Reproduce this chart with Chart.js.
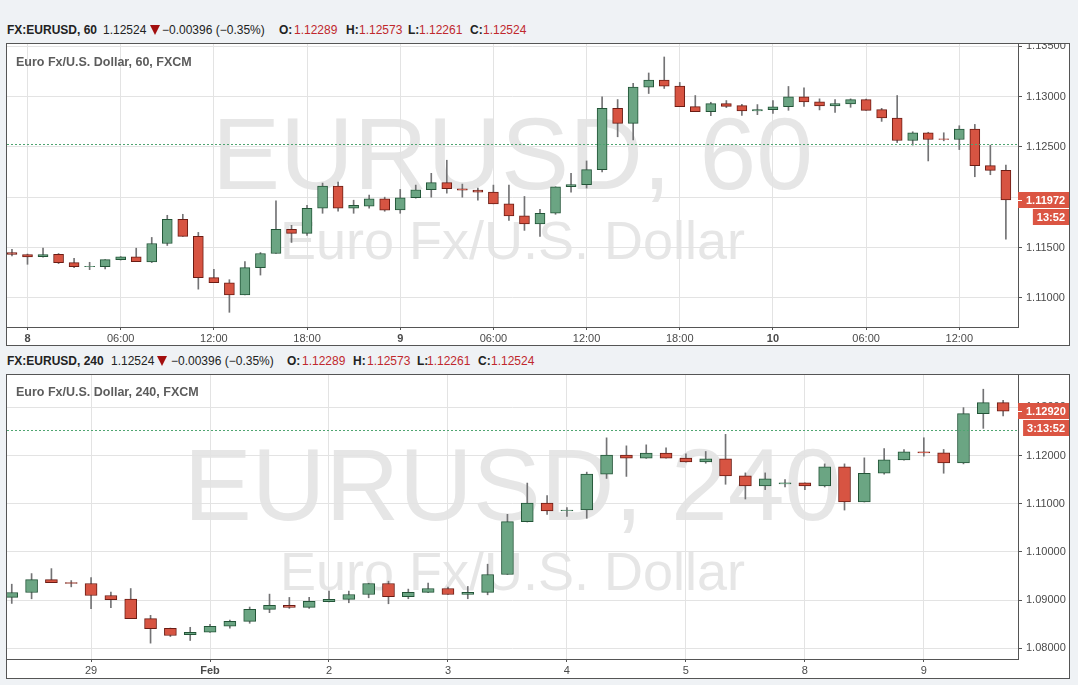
<!DOCTYPE html>
<html>
<head>
<meta charset="utf-8">
<script src="https://cdn.jsdelivr.net/npm/chart.js@4.4.0/dist/chart.umd.min.js"></script>
<style>
  body { margin: 0; width: 1078px; height: 685px; background: #eff2f5; position: relative; overflow: hidden; font-family: Arial, "Liberation Sans", sans-serif; }
  .hdr { position: absolute; left: 0; height: 14px; font-size: 12px; line-height: 14px; color: #222; white-space: nowrap; }
  .hdr > * { position: absolute; top: 0; }
  .hdr b { font-weight: bold; }
  .hdr .v { color: #c0282d; }
  .hdr .tri { top: 2px; width: 0; height: 0; border-left: 5px solid transparent; border-right: 5px solid transparent; border-top: 10px solid #a30f0f; }
  .panel { position: absolute; left: 6px; width: 1062px; border: 1px solid #555; background: #fff; }
  .panel canvas { display: block; }
  .ttl { position: absolute; left: 9px; font-size: 12.5px; font-weight: bold; color: #5c5c5c; line-height: 14px; }
</style>
</head>
<body>

<div class="hdr" style="top:23px">
  <b style="left:7px">FX:EURUSD, 60</b>
  <span style="left:103px">1.12524</span>
  <span class="tri" style="left:150px"></span>
  <span style="left:162px">&minus;0.00396 (&minus;0.35%)</span>
  <b style="left:279px">O:</b><span class="v" style="left:294px">1.12289</span>
  <b style="left:346px">H:</b><span class="v" style="left:359px">1.12573</span>
  <b style="left:408px">L:</b><span class="v" style="left:419px">1.12261</span>
  <b style="left:470px">C:</b><span class="v" style="left:483px">1.12524</span>
</div>
<div class="panel" style="top:43px;height:301px">
  <canvas id="h1" width="1062" height="301"></canvas>
  <div class="ttl" style="top:11px">Euro Fx/U.S. Dollar, 60, FXCM</div>
</div>

<div class="hdr" style="top:354px">
  <b style="left:7px">FX:EURUSD, 240</b>
  <span style="left:111px">1.12524</span>
  <span class="tri" style="left:157px"></span>
  <span style="left:171px">&minus;0.00396 (&minus;0.35%)</span>
  <b style="left:287px">O:</b><span class="v" style="left:302px">1.12289</span>
  <b style="left:353px">H:</b><span class="v" style="left:367px">1.12573</span>
  <b style="left:417px">L:</b><span class="v" style="left:427px">1.12261</span>
  <b style="left:478px">C:</b><span class="v" style="left:491px">1.12524</span>
</div>
<div class="panel" style="top:374px;height:303px">
  <canvas id="h4" width="1062" height="303"></canvas>
  <div class="ttl" style="top:10px">Euro Fx/U.S. Dollar, 240, FXCM</div>
</div>

<script>
Chart.defaults.font.family = 'Arial, "Liberation Sans", sans-serif';

const upFill = '#6ba583', upLine = '#225437';
const dnFill = '#d75442', dnLine = '#6b1c14';
const wickColor = '#737375';

// hourly candles, 7 Feb 23:00 .. 10 Feb 15:00
const h1Open = [1.11450, 1.11430, 1.11408, 1.11433, 1.11350, 1.11310, 1.11310, 1.11380, 1.11408, 1.11357,
  1.11540, 1.11780, 1.11610, 1.11200, 1.11150, 1.11030, 1.11300, 1.11440, 1.11680, 1.11640,
  1.11890, 1.12110, 1.11890, 1.11910, 1.11984, 1.11873, 1.11994, 1.12074, 1.12144, 1.12084,
  1.12070, 1.12050, 1.11934, 1.11814, 1.11734, 1.11840, 1.12104, 1.12124, 1.12274, 1.12884,
  1.12734, 1.13094, 1.13164, 1.13104, 1.12900, 1.12850, 1.12930, 1.12910, 1.12857, 1.12870,
  1.12900, 1.12997, 1.12947, 1.12907, 1.12927, 1.12970, 1.12870, 1.12787, 1.12563, 1.12640,
  1.12580, 1.12573, 1.12677, 1.12313, 1.12267];
const h1High = [1.11483, 1.11435, 1.11493, 1.11440, 1.11393, 1.11353, 1.11380, 1.11410, 1.11493, 1.11600,
  1.11820, 1.11830, 1.11650, 1.11283, 1.11180, 1.11360, 1.11450, 1.11963, 1.11720, 1.11920,
  1.12140, 1.12150, 1.11970, 1.12020, 1.12000, 1.12077, 1.12120, 1.12237, 1.12367, 1.12130,
  1.12090, 1.12120, 1.12120, 1.12007, 1.11880, 1.12104, 1.12237, 1.12360, 1.12997, 1.12970,
  1.13130, 1.13234, 1.13393, 1.13140, 1.13010, 1.12943, 1.12960, 1.12923, 1.12920, 1.12960,
  1.13100, 1.13087, 1.12977, 1.12970, 1.12977, 1.12975, 1.12883, 1.13010, 1.12650, 1.12645,
  1.12640, 1.12710, 1.12723, 1.12517, 1.12320];
const h1Low = [1.11416, 1.11333, 1.11405, 1.11340, 1.11300, 1.11280, 1.11287, 1.11375, 1.11360, 1.11350,
  1.11520, 1.11610, 1.11086, 1.11180, 1.10856, 1.11030, 1.11226, 1.11440, 1.11550, 1.11620,
  1.11840, 1.11860, 1.11840, 1.11890, 1.11860, 1.11840, 1.11990, 1.12000, 1.12040, 1.12000,
  1.11970, 1.11934, 1.11770, 1.11670, 1.11610, 1.11830, 1.12050, 1.12090, 1.12250, 1.12600,
  1.12570, 1.13030, 1.13080, 1.12900, 1.12850, 1.12810, 1.12890, 1.12813, 1.12820, 1.12833,
  1.12863, 1.12903, 1.12867, 1.12843, 1.12893, 1.12863, 1.12753, 1.12543, 1.12517, 1.12360,
  1.12560, 1.12473, 1.12203, 1.12223, 1.11583];
const h1Close = [1.11430, 1.11406, 1.11430, 1.11350, 1.11310, 1.11312, 1.11380, 1.11408, 1.11360, 1.11540,
  1.11780, 1.11610, 1.11200, 1.11150, 1.11030, 1.11300, 1.11440, 1.11680, 1.11640, 1.11890,
  1.12110, 1.11890, 1.11920, 1.11984, 1.11870, 1.11994, 1.12074, 1.12144, 1.12084, 1.12070,
  1.12050, 1.11934, 1.11814, 1.11734, 1.11840, 1.12104, 1.12124, 1.12274, 1.12884, 1.12734,
  1.13094, 1.13164, 1.13104, 1.12900, 1.12850, 1.12930, 1.12903, 1.12857, 1.12870, 1.12897,
  1.12997, 1.12947, 1.12907, 1.12930, 1.12970, 1.12863, 1.12787, 1.12563, 1.12640, 1.12573,
  1.12575, 1.12677, 1.12313, 1.12267, 1.11972];
const h1TickIdx = [1, 7, 13, 19, 25, 31, 37, 43, 49, 55, 61];
const h1TickLabels = ['8', '06:00', '12:00', '18:00', '9', '06:00', '12:00', '18:00', '10', '06:00', '12:00'];
const h1BoldLabels = ['8', '9', '10'];

// 4-hour candles, 28 Jan .. 9 Feb
const h4Open = [1.09055, 1.09158, 1.09426, 1.09364, 1.09344, 1.09096, 1.09020, 1.08615, 1.08416, 1.08285,
  1.08333, 1.08457, 1.08560, 1.08808, 1.08890, 1.08849, 1.08966, 1.09014, 1.09117, 1.09345,
  1.09069, 1.09159, 1.09241, 1.09117, 1.09159, 1.09531, 1.10628, 1.11014, 1.10848, 1.10869,
  1.11614, 1.12007, 1.11945, 1.12048, 1.11945, 1.11868, 1.11931, 1.11576, 1.11368, 1.11410,
  1.11431, 1.11368, 1.11764, 1.11035, 1.11632, 1.11910, 1.12076, 1.12056, 1.11847, 1.12868,
  1.13097];
const h4High = [1.09330, 1.09550, 1.09653, 1.09405, 1.09467, 1.09165, 1.09240, 1.08684, 1.08420, 1.08436,
  1.08498, 1.08588, 1.08856, 1.09124, 1.09055, 1.09055, 1.09186, 1.09186, 1.09350, 1.09393,
  1.09228, 1.09352, 1.09269, 1.09283, 1.09745, 1.10779, 1.11428, 1.11166, 1.10917, 1.11655,
  1.12366, 1.12200, 1.12221, 1.12159, 1.12034, 1.12083, 1.12438, 1.11639, 1.11639, 1.11500,
  1.11435, 1.11826, 1.11826, 1.11951, 1.12146, 1.12125, 1.12368, 1.12125, 1.12993, 1.13375,
  1.13146];
const h4Low = [1.08931, 1.09027, 1.09364, 1.09275, 1.08821, 1.08842, 1.08615, 1.08107, 1.08244, 1.08162,
  1.08330, 1.08416, 1.08519, 1.08739, 1.08828, 1.08828, 1.08960, 1.08945, 1.09048, 1.08924,
  1.09028, 1.09155, 1.09117, 1.09028, 1.09110, 1.09531, 1.10620, 1.10779, 1.10738, 1.10697,
  1.11524, 1.11566, 1.11940, 1.11945, 1.11862, 1.11840, 1.11403, 1.11097, 1.11292, 1.11347,
  1.11292, 1.11347, 1.10868, 1.11035, 1.11611, 1.11905, 1.11986, 1.11632, 1.11826, 1.12563,
  1.12820];
const h4Close = [1.09158, 1.09426, 1.09364, 1.09344, 1.09096, 1.09007, 1.08615, 1.08409, 1.08265, 1.08333,
  1.08457, 1.08560, 1.08808, 1.08890, 1.08849, 1.08973, 1.09014, 1.09117, 1.09345, 1.09069,
  1.09159, 1.09241, 1.09117, 1.09159, 1.09531, 1.10628, 1.11014, 1.10848, 1.10869, 1.11614,
  1.12007, 1.11945, 1.12048, 1.11945, 1.11865, 1.11931, 1.11576, 1.11368, 1.11514, 1.11431,
  1.11368, 1.11764, 1.11035, 1.11632, 1.11910, 1.12076, 1.12056, 1.11847, 1.12868, 1.13097,
  1.12920];
const h4TickIdx = [4, 10, 16, 22, 28, 34, 40, 46];
const h4TickLabels = ['29', 'Feb', '2', '3', '4', '5', '8', '9'];
const h4BoldLabels = ['Feb'];

const refPrice = 1.12524;   // dotted line level
const wmName = 'Euro Fx/U.S. Dollar';

function candleChart(id, s) {
  const idx = s.open.map((_, i) => i);
  const up = idx.map(i => s.close[i] >= s.open[i]);
  const lastPrice = s.close[s.close.length - 1];

  const overlay = {
    id: 'overlay',
    beforeDraw(chart) {
      const { ctx, chartArea: a } = chart;
      ctx.save();
      ctx.fillStyle = '#fff';
      ctx.fillRect(0, 0, chart.width, chart.height);
      ctx.fillStyle = '#e6e6e6';
      ctx.textAlign = 'center';
      ctx.textBaseline = 'alphabetic';
      const cx = (a.left + a.right) / 2;
      ctx.font = '102px Arial, "Liberation Sans", sans-serif';
      ctx.fillText(s.wm, cx, a.top + 145);
      ctx.font = '54px Arial, "Liberation Sans", sans-serif';
      ctx.fillText(wmName, cx, a.top + 215);
      ctx.restore();
    },
    afterDatasetsDraw(chart) {
      const { ctx, chartArea: a, scales: { y } } = chart;
      const py = Math.round(y.getPixelForValue(refPrice)) + 0.5;
      ctx.save();
      ctx.strokeStyle = '#4fa571';
      ctx.lineWidth = 1;
      ctx.setLineDash([2, 2]);
      ctx.beginPath();
      ctx.moveTo(a.left, py);
      ctx.lineTo(a.right, py);
      ctx.stroke();
      ctx.restore();
    },
    afterDraw(chart) {
      const { ctx, chartArea: a, scales: { y } } = chart;
      const py = Math.round(y.getPixelForValue(lastPrice));
      const tag = up[up.length - 1] ? upFill : '#db5543';
      ctx.save();
      ctx.font = 'bold 11px Arial, "Liberation Sans", sans-serif';
      ctx.textBaseline = 'middle';
      ctx.fillStyle = tag;
      ctx.fillRect(a.right, py - 8, chart.width - a.right, 16);
      ctx.fillStyle = '#fff';
      ctx.fillRect(a.right, py, 4, 1);
      ctx.fillText(lastPrice.toFixed(5), a.right + 8, py + 0.5);
      const w = ctx.measureText(s.countdown).width + 8;
      ctx.fillStyle = tag;
      ctx.fillRect(chart.width - w, py + 9, w, 16);
      ctx.fillStyle = '#fff';
      ctx.textAlign = 'center';
      ctx.fillText(s.countdown, chart.width - w / 2, py + 17.5);
      ctx.restore();
    }
  };

  return new Chart(document.getElementById(id), {
    type: 'bar',
    data: {
      datasets: [
        {
          data: idx.map(i => ({ x: i, y: [s.open[i], s.close[i]] })),
          order: 1,
          grouped: false,
          barThickness: s.bodyWidth,
          backgroundColor: up.map(u => u ? upFill : dnFill),
          borderColor: up.map(u => u ? upLine : dnLine),
          borderWidth: 1,
          borderSkipped: false
        },
        {
          data: idx.map(i => ({ x: i, y: [s.low[i], s.high[i]] })),
          order: 2,
          grouped: false,
          barThickness: 1,
          backgroundColor: wickColor,
          borderWidth: 0
        }
      ]
    },
    options: {
      responsive: false,
      animation: false,
      devicePixelRatio: 1,
      layout: { padding: 0 },
      plugins: { legend: { display: false }, tooltip: { enabled: false } },
      scales: {
        x: {
          type: 'linear',
          min: s.xMin,
          max: s.xMax,
          offset: false,
          afterBuildTicks(sc) { sc.ticks = s.tickIdx.map(v => ({ value: v })); },
          afterFit(sc) { sc.height = s.xAxisH; sc.paddingLeft = 0; sc.paddingRight = 0; },
          ticks: {
            autoSkip: false,
            maxRotation: 0,
            padding: 2,
            color: '#4a4a4a',
            font: c => ({ size: 11, weight: s.bold.includes(s.tickLabels[c.index]) ? 'bold' : 'normal' }),
            callback: (v, i) => s.tickLabels[i]
          },
          grid: { offset: false, color: '#e3e3e3', tickColor: '#555', tickLength: 3 },
          border: { color: '#555' }
        },
        y: {
          position: 'right',
          min: s.yMin,
          max: s.yMax,
          afterFit(sc) { sc.width = 51; sc.paddingTop = 0; sc.paddingBottom = 0; },
          ticks: {
            stepSize: s.step,
            includeBounds: false,
            padding: 4,
            color: '#4a4a4a',
            font: { size: 11 },
            callback: v => v.toFixed(5)
          },
          grid: { color: '#e3e3e3', tickColor: '#555', tickLength: 4 },
          border: { color: '#555' }
        }
      }
    },
    plugins: [overlay]
  });
}

candleChart('h1', {
  open: h1Open, high: h1High, low: h1Low, close: h1Close,
  tickIdx: h1TickIdx, tickLabels: h1TickLabels, bold: h1BoldLabels,
  xMin: -0.32, xMax: 64.78, yMin: 1.10710, yMax: 1.13522, step: 0.005,
  bodyWidth: 10, xAxisH: 18, wm: 'EURUSD, 60', countdown: '13:52'
});

candleChart('h4', {
  open: h4Open, high: h4High, low: h4Low, close: h4Close,
  tickIdx: h4TickIdx, tickLabels: h4TickLabels, bold: h4BoldLabels,
  xMin: -0.24, xMax: 50.75, yMin: 1.07778, yMax: 1.13670, step: 0.01,
  bodyWidth: 12, xAxisH: 19, wm: 'EURUSD, 240', countdown: '3:13:52'
});
</script>
</body>
</html>
